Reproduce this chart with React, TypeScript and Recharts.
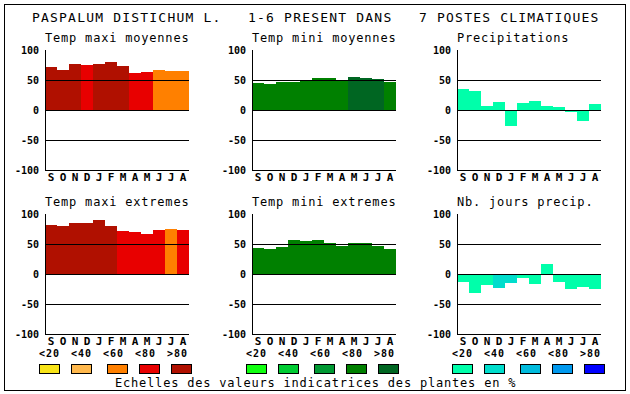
import { BarChart, Bar, Cell, XAxis, YAxis, ReferenceLine } from 'recharts'

const MONTHS = ['S', 'O', 'N', 'D', 'J', 'F', 'M', 'A', 'M', 'J', 'J', 'A']
const Y_TICKS = [-100, -50, 0, 50, 100]
const GRID_VALUES = [50, 0, -50]

// values, class = index in the colour scale (0 = <20 ... 4 = >80)
const TMAX_MOY = [72, 67, 77, 75, 77, 80, 73, 62, 63, 67, 65, 65]
const TMAX_MOY_CLASS = [4, 4, 4, 3, 4, 4, 4, 3, 3, 2, 2, 2]
const TMIN_MOY = [45, 44, 47, 46, 49, 53, 53, 49, 55, 53, 52, 47]
const TMIN_MOY_CLASS = [3, 3, 3, 3, 3, 3, 3, 3, 4, 4, 4, 3]
const PRECIP = [35, 32, 7, 13, -27, 12, 15, 7, 5, -3, -18, 10]
const PRECIP_CLASS = [0, 0, 0, 0, 0, 0, 0, 0, 0, 0, 0, 0]
const TMAX_EXT = [82, 80, 85, 85, 90, 80, 72, 70, 67, 74, 75, 74]
const TMAX_EXT_CLASS = [4, 4, 4, 4, 4, 4, 3, 3, 3, 3, 2, 3]
const TMIN_EXT = [44, 42, 45, 57, 55, 57, 52, 47, 52, 52, 47, 42]
const TMIN_EXT_CLASS = [3, 3, 3, 3, 3, 3, 3, 3, 3, 3, 3, 3]
const NB_JOURS = [-13, -32, -18, -23, -15, -7, -17, 17, -13, -25, -22, -25]
const NB_JOURS_CLASS = [0, 0, 0, 1, 1, 0, 0, 0, 0, 0, 0, 0]

const SCALE_LABELS = ['<20', '<40', '<60', '<80', '>80']
const RED_SCALE = ['#F8E418', '#FFB84C', '#FF8000', '#E80000', '#B01000']
const GREEN_SCALE = ['#10FF10', '#00CC33', '#009933', '#008000', '#006622']
const BLUE_SCALE = ['#00FFAA', '#00DDCC', '#00BBDD', '#0099EE', '#0000FF']

const PANELS = [
  { title: 'Temp maxi moyennes', values: TMAX_MOY, cls: TMAX_MOY_CLASS, palette: RED_SCALE, col: 0, row: 0 },
  { title: 'Temp mini moyennes', values: TMIN_MOY, cls: TMIN_MOY_CLASS, palette: GREEN_SCALE, col: 1, row: 0 },
  { title: 'Precipitations', values: PRECIP, cls: PRECIP_CLASS, palette: BLUE_SCALE, col: 2, row: 0 },
  { title: 'Temp maxi extremes', values: TMAX_EXT, cls: TMAX_EXT_CLASS, palette: RED_SCALE, col: 0, row: 1 },
  { title: 'Temp mini extremes', values: TMIN_EXT, cls: TMIN_EXT_CLASS, palette: GREEN_SCALE, col: 1, row: 1 },
  { title: 'Nb. jours precip.', values: NB_JOURS, cls: NB_JOURS_CLASS, palette: BLUE_SCALE, col: 2, row: 1 },
]
const LEGENDS = [RED_SCALE, GREEN_SCALE, BLUE_SCALE]

// layout
const COL_X = [45, 252, 457]
const ROW_Y = [50, 214]
const PLOT_W = 144
const PLOT_H = 120
const AXIS_W = 40
const PAD_T = 8
const XAXIS_H = 20
const LEGEND_X = [39, 246, 452]
const LABEL_DX = [0, 32, 64, 96, 128]
const BOX_DX = [0, 32, 68, 100, 132]

const MONO = '"DejaVu Sans Mono", "Liberation Mono", monospace'
const tickFont = { fill: '#000', fontSize: 10, fontWeight: 'bold', fontFamily: MONO }

function Panel({ values, cls, palette, col, row }: any) {
  const data = MONTHS.map((m, i) => ({ m, v: values[i] }))
  return (
    <div className="panel" style={{ position: 'absolute', left: COL_X[col] - AXIS_W, top: ROW_Y[row] - PAD_T }}>
      <BarChart
        width={AXIS_W + PLOT_W + 2}
        height={PAD_T + PLOT_H + XAXIS_H}
        data={data}
        margin={{ top: PAD_T, right: 2, bottom: 0, left: 0 }}
        barCategoryGap={0}
      >
        <XAxis
          dataKey="m"
          height={XAXIS_H}
          interval={0}
          tickLine={false}
          tickSize={0}
          tickMargin={3}
          axisLine={{ stroke: '#000' }}
          tick={{ ...tickFont, fontSize: 11 }}
        />
        <XAxis xAxisId="top" orientation="top" dataKey="m" height={0} tick={false} tickLine={false} axisLine={{ stroke: '#000' }} />
        <YAxis
          domain={[-100, 100]}
          ticks={Y_TICKS}
          width={AXIS_W}
          interval={0}
          tickLine={false}
          tickSize={0}
          tickMargin={6}
          axisLine={{ stroke: '#000' }}
          tick={tickFont}
        />
        <YAxis yAxisId="right" orientation="right" domain={[-100, 100]} width={0} tick={false} tickLine={false} axisLine={{ stroke: '#000' }} />
        <Bar dataKey="v" isAnimationActive={false}>
          {data.map((d, i) => (
            <Cell key={i} fill={palette[cls[i]]} />
          ))}
        </Bar>
        {GRID_VALUES.map((g) => (
          <ReferenceLine key={g} y={g} stroke="#000" strokeWidth={1} />
        ))}
      </BarChart>
    </div>
  )
}

export default function App() {
  return (
    <div style={{ position: 'absolute', left: 0, top: 0, width: 630, height: 394, background: '#fff' }}>
      <style>{`
        .panel svg rect, .panel svg line, .panel svg path { shape-rendering: crispEdges; }
        .recharts-yAxis .recharts-cartesian-axis-tick-value { letter-spacing: 1px; }
      `}</style>
      <svg width={630} height={394} style={{ position: 'absolute', left: 0, top: 0 }}>
        <rect x={4.5} y={4.5} width={621} height={386} fill="none" stroke="#000" />
        <g fontFamily={MONO} fontSize={13} fill="#000" style={{ letterSpacing: '1.2px' }}>
          <text x={32} y={22}>PASPALUM DISTICHUM L.</text>
          <text x={248} y={22}>1-6 PRESENT DANS</text>
          <text x={419} y={22}>7 POSTES CLIMATIQUES</text>
        </g>
        <g fontFamily={MONO} fontSize={12} fill="#000" style={{ letterSpacing: '0.8px' }}>
          {PANELS.map((p) => (
            <text key={p.title} x={COL_X[p.col]} y={ROW_Y[p.row] - 8}>
              {p.title}
            </text>
          ))}
          <text x={115} y={387}>Echelles des valeurs indicatrices des plantes en %</text>
        </g>
        {LEGENDS.map((pal, g) => (
          <g key={g}>
            {SCALE_LABELS.map((lab, i) => (
              <text key={lab} x={LEGEND_X[g] + LABEL_DX[i]} y={357} {...tickFont} style={{ letterSpacing: '1px' }}>
                {lab}
              </text>
            ))}
            {pal.map((c, i) => (
              <rect key={c} x={LEGEND_X[g] + BOX_DX[i] + 0.5} y={364.5} width={20} height={9} fill={c} stroke="#000" />
            ))}
          </g>
        ))}
      </svg>
      {PANELS.map((p) => (
        <Panel key={p.title} {...p} />
      ))}
    </div>
  )
}
